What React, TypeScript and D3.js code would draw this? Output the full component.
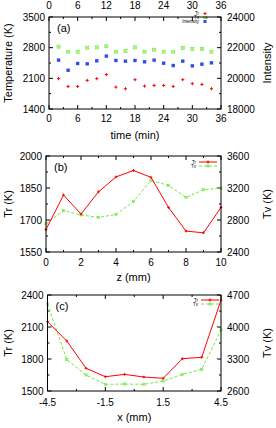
import React from 'react';
import * as d3 from 'd3';

// Panel (a)
const timeMin = [2, 4, 6, 8, 10, 12, 14, 16, 18, 20, 22, 24, 26, 28, 30, 32, 34];
const trA = [2092, 1915, 1915, 2054, 2092, 2185, 1900, 1862, 2069, 1923, 1938, 1938, 1915, 2069, 1977, 1962, 1862];
const tvA = [2823, 2708, 2708, 2800, 2808, 2831, 2708, 2723, 2808, 2708, 2754, 2708, 2708, 2792, 2769, 2769, 2708];
const intensityA = [21187, 20527, 20967, 20945, 21143, 21450, 21165, 21121, 21165, 21077, 21187, 20989, 20835, 21121, 20813, 20923, 21011];
const timeTicks = [0, 6, 12, 18, 24, 30, 36];
const tempTicksA = [1400, 2100, 2800, 3500];
const intensityTicks = [18000, 20000, 22000, 24000];

// Panel (b)
const zMm = [0, 1, 2, 3, 4, 5, 6, 7, 8, 9, 10];
const trB = [1655, 1817, 1728, 1832, 1902, 1932, 1900, 1759, 1648, 1640, 1759];
const tvB = [2752, 2917, 2863, 2834, 2868, 3033, 3294, 3232, 3083, 3178, 3199];
const zTicks = [0, 2, 4, 6, 8, 10];
const trTicksB = [1550, 1700, 1850, 2000];
const tvTicksB = [2400, 2800, 3200, 3600];

// Panel (c)
const xMm = [-4.5, -3.5, -2.5, -1.5, -0.5, 0.5, 1.5, 2.5, 3.5, 4.5];
const trC = [2150, 1969, 1713, 1634, 1656, 1631, 1619, 1803, 1816, 2353];
const tvC = [4503, 3286, 2950, 2746, 2753, 2746, 2819, 2965, 3074, 3935];
const xTicksC = [-4.5, -1.5, 1.5, 4.5];
const trTicksC = [1500, 1800, 2100, 2400];
const tvTicksC = [2600, 3300, 4000, 4700];

const RED = '#ff0000';
const GREEN = '#70e83a';
const BLUE = '#2f4cf0';
const FONT = '"Liberation Sans", Arial, sans-serif';

function mids(t: number[]) {
  const out: number[] = [];
  for (let i = 0; i < t.length - 1; i++) out.push((t[i] + t[i + 1]) / 2);
  return out;
}

function Plus({ x, y, s = 2 }: any) {
  return (
    <g stroke={RED} strokeWidth={1}>
      <line x1={x - s} x2={x + s} y1={y} y2={y} />
      <line x1={x} x2={x} y1={y - s} y2={y + s} />
    </g>
  );
}
function BoxX({ x, y, s = 1.8, w = 0.7 }: any) {
  return (
    <g stroke={GREEN} strokeWidth={w} fill="none">
      <rect x={x - s} y={y - s} width={2 * s} height={2 * s} />
      <line x1={x - s} x2={x + s} y1={y - s} y2={y + s} />
      <line x1={x - s} x2={x + s} y1={y + s} y2={y - s} />
    </g>
  );
}

type PanelProps = {
  left: number; right: number; top: number; bottom: number;
  xDomain: [number, number]; yDomain: [number, number]; y2Domain: [number, number];
  xTicks: number[]; yTicks: number[]; y2Ticks: number[];
  topLabels: boolean;
  xTitle: string; yTitle: string; y2Title: string;
  tag: string;
  xLabelDy: number; xTitleY: number;
  children: (x: any, y: any, y2: any) => React.ReactNode;
};

function Panel(p: PanelProps) {
  const x = d3.scaleLinear().domain(p.xDomain).range([p.left, p.right]);
  const y = d3.scaleLinear().domain(p.yDomain).range([p.bottom, p.top]);
  const y2 = d3.scaleLinear().domain(p.y2Domain).range([p.bottom, p.top]);
  const fx = (v: number) => String(v);
  const L = 4, m = 2;
  const cy = (p.top + p.bottom) / 2;
  return (
    <g fontFamily={FONT}>
      {p.xTicks.map((t) => (
        <g key={'xt' + t}>
          <line x1={x(t)} x2={x(t)} y1={p.bottom} y2={p.bottom - L} stroke="#000" />
          <line x1={x(t)} x2={x(t)} y1={p.top} y2={p.top + L} stroke="#000" />
          <text x={x(t)} y={p.bottom + p.xLabelDy} fontSize={10} textAnchor="middle">{fx(t)}</text>
          {p.topLabels && <text x={x(t)} y={p.top - 8} fontSize={10} textAnchor="middle">{fx(t)}</text>}
        </g>
      ))}
      {mids(p.xTicks).map((t) => (
        <g key={'xm' + t}>
          <line x1={x(t)} x2={x(t)} y1={p.bottom} y2={p.bottom - m} stroke="#000" />
          <line x1={x(t)} x2={x(t)} y1={p.top} y2={p.top + m} stroke="#000" />
        </g>
      ))}
      {p.yTicks.map((t) => (
        <g key={'yt' + t}>
          <line x1={p.left} x2={p.left + L} y1={y(t)} y2={y(t)} stroke="#000" />
          <text x={p.left - 4} y={y(t) + 3.6} fontSize={10} textAnchor="end">{t}</text>
        </g>
      ))}
      {mids(p.yTicks).map((t) => (
        <line key={'ym' + t} x1={p.left} x2={p.left + m} y1={y(t)} y2={y(t)} stroke="#000" />
      ))}
      {p.y2Ticks.map((t) => (
        <g key={'y2t' + t}>
          <line x1={p.right} x2={p.right - L} y1={y2(t)} y2={y2(t)} stroke="#000" />
          <text x={p.right + 6} y={y2(t) + 3.6} fontSize={10} textAnchor="start">{t}</text>
        </g>
      ))}
      {mids(p.y2Ticks).map((t) => (
        <line key={'y2m' + t} x1={p.right} x2={p.right - m} y1={y2(t)} y2={y2(t)} stroke="#000" />
      ))}
      {p.children(x, y, y2)}
      <rect x={p.left} y={p.top} width={p.right - p.left} height={p.bottom - p.top} fill="none" stroke="#000" strokeWidth={1} />
      <text x={p.left + 8} y={p.top + 15} fontSize={11}>{p.tag}</text>
      <text x={(p.left + p.right) / 2} y={p.xTitleY} fontSize={11} textAnchor="middle">{p.xTitle}</text>
      <text transform={`translate(12,${cy}) rotate(-90)`} fontSize={11} textAnchor="middle">{p.yTitle}</text>
      <text transform={`translate(271,${cy}) rotate(-90)`} fontSize={11} textAnchor="middle">{p.y2Title}</text>
    </g>
  );
}

function LineLegend({ x0, y0 }: { x0: number; y0: number }) {
  return (
    <g fontFamily={FONT} fontSize={4.5}>
      <text x={x0 - 3} y={y0 + 1.5} textAnchor="end">Tr</text>
      <line x1={x0} x2={x0 + 18} y1={y0} y2={y0} stroke={RED} />
      <Plus x={x0 + 9} y={y0} s={1.5} />
      <text x={x0 - 3} y={y0 + 5.5} textAnchor="end">Tv</text>
      <line x1={x0} x2={x0 + 18} y1={y0 + 4} y2={y0 + 4} stroke={GREEN} strokeDasharray="3,2" />
      <BoxX x={x0 + 9} y={y0 + 4} s={1.1} w={0.6} />
    </g>
  );
}

export default function App() {
  return (
    <svg width={276} height={428} style={{ position: 'absolute', left: 0, top: 0, background: '#fff' }}>
      <rect width={276} height={428} fill="#fff" />
      <Panel left={49} right={221} top={17} bottom={109}
        xDomain={[0, 36]} yDomain={[1400, 3500]} y2Domain={[18000, 24000]}
        xTicks={timeTicks} yTicks={tempTicksA} y2Ticks={intensityTicks}
        topLabels={true} xTitle="time (min)" yTitle="Temperature (K)" y2Title="Intensity"
        tag="(a)" xLabelDy={13} xTitleY={139}>
        {(x, y, y2) => (
          <g>
            {timeMin.map((t, i) => <Plus key={'a' + i} x={x(t)} y={y(trA[i])} s={1.6} />)}
            {timeMin.map((t, i) => <BoxX key={'b' + i} x={x(t)} y={y(tvA[i])} s={1.5} w={0.7} />)}
            {timeMin.map((t, i) => (
              <rect key={'c' + i} x={x(t) - 1.7} y={y2(intensityA[i]) - 1.7} width={3.4} height={3.4} fill={BLUE} />
            ))}
            <g fontFamily={FONT} fontSize={4.5}>
              <text x={199} y={15} textAnchor="end">Tr</text>
              <Plus x={205} y={13.5} s={1.5} />
              <text x={199} y={19} textAnchor="end">Tv</text>
              <BoxX x={205} y={17.5} s={1.3} w={0.6} />
              <text x={199} y={23} textAnchor="end">Intensity</text>
              <rect x={203.5} y={20} width={3} height={3} fill={BLUE} />
            </g>
          </g>
        )}
      </Panel>
      <Panel left={46} right={221} top={156} bottom={252}
        xDomain={[0, 10]} yDomain={[1550, 2000]} y2Domain={[2400, 3600]}
        xTicks={zTicks} yTicks={trTicksB} y2Ticks={tvTicksB}
        topLabels={false} xTitle="z (mm)" yTitle="Tr (K)" y2Title="Tv (K)"
        tag="(b)" xLabelDy={14} xTitleY={281}>
        {(x, y, y2) => {
          const lr = d3.line<number>().x((d, i) => x(zMm[i])).y((d) => y(d));
          const lv = d3.line<number>().x((d, i) => x(zMm[i])).y((d) => y2(d));
          return (
            <g>
              <path d={lv(tvB) || ''} fill="none" stroke={GREEN} strokeDasharray="3,2" />
              {zMm.map((z, i) => <BoxX key={'v' + i} x={x(z)} y={y2(tvB[i])} s={1.1} w={0.6} />)}
              <path d={lr(trB) || ''} fill="none" stroke={RED} />
              {zMm.map((z, i) => <Plus key={'r' + i} x={x(z)} y={y(trB[i])} s={1.4} />)}
              <LineLegend x0={199} y0={162} />
            </g>
          );
        }}
      </Panel>
      <Panel left={47.5} right={221} top={295} bottom={391}
        xDomain={[-4.5, 4.5]} yDomain={[1500, 2400]} y2Domain={[2600, 4700]}
        xTicks={xTicksC} yTicks={trTicksC} y2Ticks={tvTicksC}
        topLabels={false} xTitle="x (mm)" yTitle="Tr (K)" y2Title="Tv (K)"
        tag="(c)" xLabelDy={15} xTitleY={421}>
        {(x, y, y2) => {
          const lr = d3.line<number>().x((d, i) => x(xMm[i])).y((d) => y(d));
          const lv = d3.line<number>().x((d, i) => x(xMm[i])).y((d) => y2(d));
          return (
            <g>
              <path d={lv(tvC) || ''} fill="none" stroke={GREEN} strokeDasharray="3,2" />
              {xMm.map((v, i) => <BoxX key={'v' + i} x={x(v)} y={y2(tvC[i])} s={1.1} w={0.6} />)}
              <path d={lr(trC) || ''} fill="none" stroke={RED} />
              {xMm.map((v, i) => <Plus key={'r' + i} x={x(v)} y={y(trC[i])} s={1.4} />)}
              <LineLegend x0={201} y0={300} />
            </g>
          );
        }}
      </Panel>
    </svg>
  );
}
